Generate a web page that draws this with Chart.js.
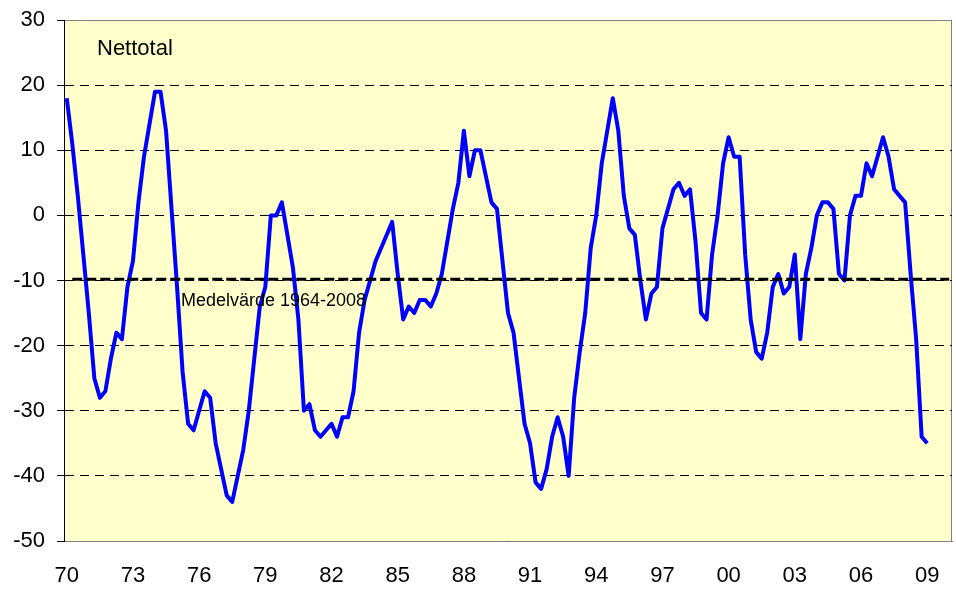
<!DOCTYPE html>
<html>
<head>
<meta charset="utf-8">
<script src="https://cdn.jsdelivr.net/npm/chart.js@4/dist/chart.umd.min.js"></script>
<style>
  html, body { margin: 0; padding: 0; background: #ffffff; }
  #wrap { width: 956px; height: 590px; position: relative; }
</style>
</head>
<body>
<div id="wrap"><canvas id="c" width="956" height="590"></canvas></div>
<script>
// ---- Data (quarterly, 1970Q1 .. 2009Q1) ----
const firstYear = 1970;
const lastYear = 2010; // axis runs through 2010Q1
const tickLabels = ['70','73','76','79','82','85','88','91','94','97','00','03','06','09'];
const nettotal = [
  18, 11, 3, -6, -15, -25, -28, -27,          // 1970-71
  -22, -18, -19, -11, -7, 2, 9, 14,           // 1972-73
  19, 19, 13, 1, -11, -24, -32, -33,          // 1974-75
  -30, -27, -28, -35, -39, -43, -44, -40,     // 1976-77
  -36, -30, -22, -14, -11, 0, 0, 2,           // 1978-79
  -3, -8, -16, -30, -29, -33, -34, -33,       // 1980-81
  -32, -34, -31, -31, -27, -18, -13, -10,     // 1982-83
  -7, -5, -3, -1, -9, -16, -14, -15,          // 1984-85
  -13, -13, -14, -12, -9, -4, 1, 5,           // 1986-87
  13, 6, 10, 10, 6, 2, 1, -7,                 // 1988-89
  -15, -18, -25, -32, -35, -41, -42, -39,     // 1990-91
  -34, -31, -34, -40, -28, -21, -15, -5,      // 1992-93
  0, 8, 13, 18, 13, 3, -2, -3,                // 1994-95
  -10, -16, -12, -11, -2, 1, 4, 5,            // 1996-97
  3, 4, -4, -15, -16, -6, 0, 8,               // 1998-99
  12, 9, 9, -6, -16, -21, -22, -18,           // 2000-01
  -11, -9, -12, -11, -6, -19, -9, -5,         // 2002-03
  0, 2, 2, 1, -9, -10, 0, 3,                  // 2004-05
  3, 8, 6, 9, 12, 9, 4, 3,                    // 2006-07
  2, -9, -19, -34, -35                        // 2008-09Q1
];
const meanValue = -9.8; // Medelvärde 1964-2008
const seriesLabel = 'Nettotal';
const meanLabel = 'Medelvärde 1964-2008';

// category labels (quarters)
const categories = [];
for (let y = firstYear; y <= lastYear; y++) {
  for (let q = 1; q <= 4; q++) {
    if (y === lastYear && q > 1) break;
    categories.push(y + 'Q' + q);
  }
}
const meanSeries = categories.map((c, i) => i === 0 ? null : meanValue);

const FONT = '"Liberation Sans", Arial, Helvetica, sans-serif';

const bgPlugin = {
  id: 'bg',
  beforeDraw(chart) {
    const {ctx, chartArea: a} = chart;
    ctx.save();
    ctx.fillStyle = '#FFFFCC';
    ctx.fillRect(a.left, a.top, a.right - a.left, a.bottom - a.top);
    ctx.strokeStyle = '#808080';
    ctx.lineWidth = 1;
    ctx.strokeRect(a.left + 0.5, a.top + 0.5, a.right - a.left - 1, a.bottom - a.top);
    ctx.restore();
  },
  afterDraw(chart) {
    const {ctx, chartArea: a} = chart;
    const ys = chart.scales.y;
    ctx.save();
    ctx.fillStyle = '#000';
    ctx.textBaseline = 'alphabetic';
    ctx.textAlign = 'left';
    ctx.font = '22px ' + FONT;
    ctx.fillText(seriesLabel, a.left + 33, a.top + 35);
    ctx.font = '18px ' + FONT;
    ctx.fillText(meanLabel, a.left + 117, ys.getPixelForValue(meanValue) + 27);
    ctx.restore();
  }
};

function zeroPad(s) { s.paddingLeft = 0; s.paddingRight = 0; s.paddingTop = 0; s.paddingBottom = 0; }

new Chart(document.getElementById('c'), {
  type: 'line',
  data: {
    labels: categories,
    datasets: [
      {
        label: meanLabel,
        data: meanSeries,
        borderColor: '#000000',
        borderWidth: 3,
        borderDash: [10, 4],
        pointRadius: 0,
        fill: false,
        tension: 0,
        order: 0
      },
      {
        label: seriesLabel,
        data: nettotal,
        borderColor: '#0000FF',
        borderWidth: 4,
        borderJoinStyle: 'round',
        pointRadius: 0,
        fill: false,
        tension: 0,
        order: 1
      }
    ]
  },
  options: {
    responsive: false,
    animation: false,
    devicePixelRatio: 1,
    layout: { padding: { left: 0, top: 20, right: 4, bottom: 0 } },
    plugins: { legend: { display: false }, tooltip: { enabled: false } },
    scales: {
      x: {
        type: 'category',
        offset: true,
        grid: { display: false, drawTicks: false },
        border: { display: true, color: '#808080', width: 1 },
        ticks: {
          autoSkip: false,
          maxRotation: 0,
          minRotation: 0,
          padding: 22,
          color: '#000',
          font: { family: FONT, size: 22 },
          callback: (val, idx) => (idx % 12 === 0 && idx / 12 < tickLabels.length) ? tickLabels[idx / 12] : ''
        },
        afterFit: (s) => { s.height = 49; zeroPad(s); }
      },
      y: {
        min: -50,
        max: 30,
        ticks: {
          stepSize: 10,
          padding: 12,
          color: '#000',
          font: { family: FONT, size: 22 }
        },
        grid: {
          color: (c) => (c.tick && c.tick.value === 30) ? 'rgba(0,0,0,0)' : '#000000',
          lineWidth: 1,
          drawTicks: true,
          tickLength: 7,
          tickColor: '#000000',
          tickBorderDash: []
        },
        border: { display: true, color: '#000000', width: 1, dash: [9, 6] },
        afterFit: (s) => { s.width = 64; zeroPad(s); }
      }
    }
  },
  plugins: [bgPlugin]
});
</script>
</body>
</html>
